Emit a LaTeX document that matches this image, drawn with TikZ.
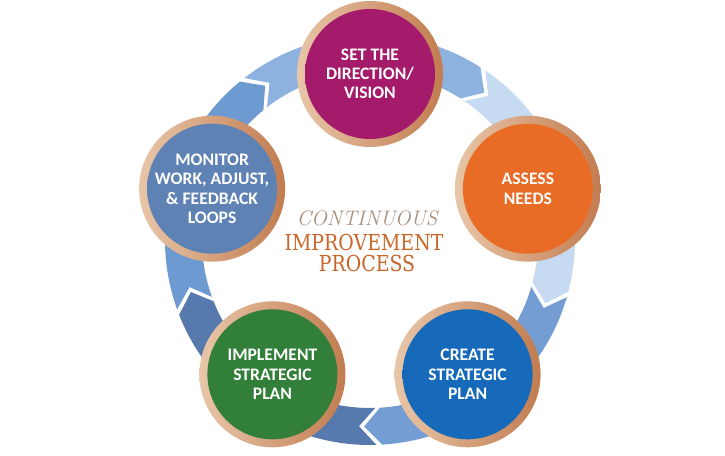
\documentclass[tikz,border=0pt]{standalone}
\usepackage{fontspec}
\newfontfamily\carlito{Carlito}
\newfontfamily\slab[FakeStretch=0.86]{DejaVu Serif}
\definecolor{ringL}{HTML}{E8C6A8}
\definecolor{ringR}{HTML}{C27C50}
\definecolor{purpC}{HTML}{A41B6C}
\definecolor{purpE}{HTML}{7A114E}
\definecolor{oranC}{HTML}{E86C25}
\definecolor{oranE}{HTML}{C0531A}
\definecolor{blueC}{HTML}{176AB9}
\definecolor{blueE}{HTML}{0E4F8E}
\definecolor{grenC}{HTML}{317F38}
\definecolor{grenE}{HTML}{1F5B26}
\definecolor{slatC}{HTML}{5E82B4}
\definecolor{slatE}{HTML}{46689B}
\definecolor{segA}{HTML}{8EB2DF}
\definecolor{segB}{HTML}{C6DAF2}
\definecolor{segC}{HTML}{739DD3}
\definecolor{segD}{HTML}{5679AE}
\definecolor{segE}{HTML}{6D9AD0}
\definecolor{contC}{HTML}{AA8E7C}
\definecolor{impC}{HTML}{C9662A}
\pgfdeclareradialshading{discpurp}{\pgfpoint{0bp}{0bp}}{color(0bp)=(purpC); color(38bp)=(purpC); color(50bp)=(purpE)}
\pgfdeclareradialshading{discoran}{\pgfpoint{0bp}{0bp}}{color(0bp)=(oranC); color(38bp)=(oranC); color(50bp)=(oranE)}
\pgfdeclareradialshading{discblue}{\pgfpoint{0bp}{0bp}}{color(0bp)=(blueC); color(38bp)=(blueC); color(50bp)=(blueE)}
\pgfdeclareradialshading{discgren}{\pgfpoint{0bp}{0bp}}{color(0bp)=(grenC); color(38bp)=(grenC); color(50bp)=(grenE)}
\pgfdeclareradialshading{discslat}{\pgfpoint{0bp}{0bp}}{color(0bp)=(slatC); color(38bp)=(slatC); color(50bp)=(slatE)}
\newcommand\bandin{168pt}
\newcommand\bandout{205pt}
\newcommand\bandmid{186.5pt}
\newcommand\tipang{2.6}
\newcommand\gapang{0.8}
\newcommand\bandseg[3]{%
  \fill[#3] ({#1+\tipang-\gapang}:\bandout)
    arc[start angle={#1+\tipang-\gapang}, end angle={#2+\tipang+\gapang}, radius=\bandout]
    -- ({#2-\tipang+\gapang}:\bandmid)
    -- ({#2+\tipang+\gapang}:\bandin)
    arc[start angle={#2+\tipang+\gapang}, end angle={#1+\tipang-\gapang}, radius=\bandin]
    -- ({#1-\tipang-\gapang}:\bandmid) -- cycle;}
\begin{document}
\begin{tikzpicture}[x=1pt,y=1pt,
  stage/.style={circle, minimum size=146pt, inner sep=0pt,
    left color=ringL, right color=ringR, text=white, align=center,
    font=\carlito\bfseries\fontsize{17.6}{19.2}\selectfont,
    path picture={\shade[shading=#1] (path picture bounding box.center) circle[radius=65pt];}}]
\useasboundingbox (-370,-215) rectangle (355,240);
\fill[white] (-370,-215) rectangle (355,240);
% arrow band
\bandseg{126}{54}{segA}
\bandseg{54}{-18}{segB}
\bandseg{-18}{-90}{segC}
\bandseg{-90}{-162}{segD}
\bandseg{198}{126}{segE}
% stages
\node[stage=discpurp] (vision) at (90:166pt) {SET THE\\DIRECTION/\\VISION};
\node[stage=discoran] (assess) at (18:166pt) {ASSESS\\NEEDS};
\node[stage=discblue] (create) at (-54:166pt) {CREATE\\STRATEGIC\\PLAN};
\node[stage=discgren] (implement) at (-126:166pt) {IMPLEMENT\\STRATEGIC\\PLAN};
\node[stage=discslat] (monitor) at (162:166pt) {MONITOR\\WORK, ADJUST,\\\& FEEDBACK\\LOOPS};
% centre title
\node[anchor=base, inner sep=0pt, text=contC, font=\itshape\fontsize{21}{21}\selectfont] (cont) at (-3,14) {CONTINUOUS};
\node[anchor=base, inner sep=0pt, text=impC, font=\slab\fontsize{22}{22}\selectfont] (impr) at (-6,-10) {IMPROVEMENT};
\node[anchor=base, inner sep=0pt, text=impC, font=\slab\fontsize{22}{22}\selectfont] (proc) at (-3,-31) {PROCESS};
\end{tikzpicture}
\end{document}
